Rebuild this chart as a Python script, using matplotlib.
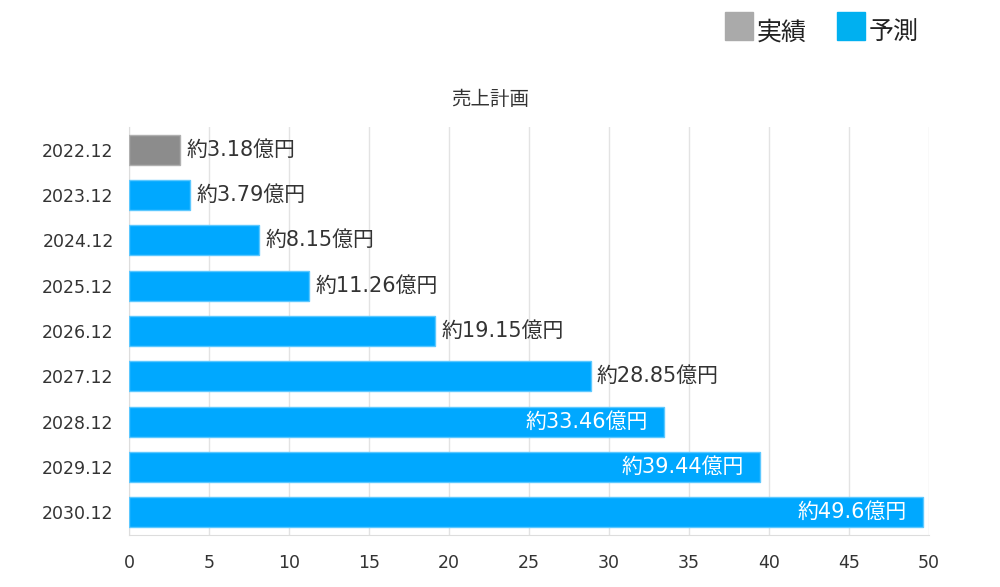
import matplotlib.pyplot as plt
from matplotlib.patches import Rectangle

plt.rcParams['font.family'] = ['DejaVu Sans', 'Noto Sans CJK JP']

years = ["2022.12", "2023.12", "2024.12", "2025.12", "2026.12",
         "2027.12", "2028.12", "2029.12", "2030.12"]
sales = [3.18, 3.79, 8.15, 11.26, 19.15, 28.85, 33.46, 39.44, 49.6]
kinds = ["実績", "予測", "予測", "予測", "予測", "予測", "予測", "予測", "予測"]
labels = ["約3.18億円", "約3.79億円", "約8.15億円", "約11.26億円", "約19.15億円",
          "約28.85億円", "約33.46億円", "約39.44億円", "約49.6億円"]
inside = [False, False, False, False, False, False, True, True, True]

bar_col = {"実績": "#8c8c8c", "予測": "#00a8ff"}
edge_col = {"実績": "#b0b0b0", "予測": "#5cc8ff"}

fig = plt.figure(figsize=(10, 5.87), dpi=100)
ax = fig.add_axes([0.129, 0.0886, 0.8, 0.695])

ypos = list(range(len(years)))
for i in ypos:
    ax.barh(i, sales[i], height=0.66, color=bar_col[kinds[i]],
            edgecolor=edge_col[kinds[i]], linewidth=1, zorder=3)
    if inside[i]:
        ax.text(sales[i] - 1.0, i, labels[i], ha="right", va="center",
                fontsize=15, color="white", zorder=4)
    else:
        ax.text(sales[i] + 0.4, i, labels[i], ha="left", va="center",
                fontsize=15, color="#333333", zorder=4)

ax.set_xlim(0, 50)
ax.set_ylim(len(years) - 0.5, -0.5)
ax.set_yticks(ypos)
ax.set_yticklabels(years, fontsize=12.5, color="#333333")
ax.set_xticks(range(0, 51, 5))
ax.tick_params(axis="x", labelsize=12.5, colors="#333333", length=0, pad=14)
ax.tick_params(axis="y", length=0, pad=11)
ax.grid(axis="x", color="#e3e3e3", linewidth=1, zorder=0)
for s in ["top", "right"]:
    ax.spines[s].set_visible(False)
for s in ["left", "bottom"]:
    ax.spines[s].set_color("#dddddd")

fig.text(0.49, 0.83, "売上計画", ha="center", va="center", fontsize=14, color="#333333")

# legend
legend_items = [("実績", "#aaaaaa", 0.725), ("予測", "#00b0f0", 0.837)]
for name, col, x0 in legend_items:
    fig.patches.append(Rectangle((x0, 1 - 40 / 587), 0.028, 28 / 587,
                                 transform=fig.transFigure, color=col))
    fig.text(x0 + 0.032, 1 - 33 / 587, name, ha="left", va="center",
             fontsize=18, color="#222222")

fig.savefig("out.png", dpi=100)
